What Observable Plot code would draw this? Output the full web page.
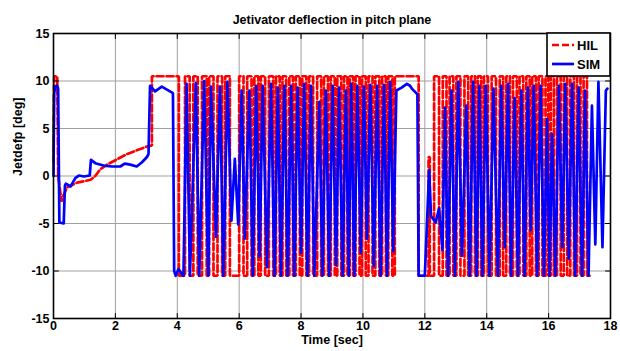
<!DOCTYPE html>
<html>
<head>
<meta charset="utf-8">
<script src="https://cdn.jsdelivr.net/npm/d3@7"></script>
<script src="https://cdn.jsdelivr.net/npm/@observablehq/plot@0.6"></script>
<style>
  html, body { margin: 0; padding: 0; background: #fff; }
  #chart svg { display: block; }
</style>
</head>
<body>
<div id="chart"></div>
<script>
// ---------- labels ----------
const titleText = "Jetivator deflection in pitch plane";
const xLabel = "Time [sec]";
const yLabel = "Jetdefp [deg]";
const seriesNames = ["HIL", "SIM"];
const xTicks = [0, 2, 4, 6, 8, 10, 12, 14, 16, 18];
const yTicks = [-15, -10, -5, 0, 5, 10, 15];

// ---------- SIM (blue, solid) : time / value ----------
const simT = [0.00,0.02,0.05,0.12,0.15,0.19,0.33,0.37,0.40,0.55,0.71,0.82,0.98,1.17,1.21,1.35,1.62,1.89,2.16,2.30,2.48,2.69,2.86,3.02,3.07,3.12,3.28,3.50,3.82,3.86,3.90,3.95,4.04,4.14,4.20,
  4.30,4.41,4.60,4.71,4.87,5.00,5.09,5.25,5.38,5.49,5.62,5.75,5.86,5.97,6.08,6.18,6.33,6.44,6.55,6.66,6.76,6.90,7.03,7.14,7.25,7.35,7.46,7.57,7.68,7.78,7.89,8.00,8.10,8.21,8.32,8.43,8.59,8.69,8.80,8.91,9.02,9.13,9.23,9.34,9.45,9.54,9.62,9.72,9.82,9.93,10.03,10.13,10.24,10.35,10.46,10.57,10.68,10.78,10.88,10.98,11.08,11.25,11.42,11.52,11.58,11.70,11.76,11.80,12.00,
  12.14,12.20,12.35,12.46,12.57,12.65,12.75,12.86,12.97,13.08,13.20,13.34,13.45,13.56,13.67,13.76,13.86,13.97,14.09,14.22,14.36,14.47,14.58,14.69,14.79,14.90,15.01,15.12,15.22,15.33,15.42,15.52,15.63,15.74,15.85,15.95,16.03,16.11,16.22,16.33,16.44,16.54,16.65,16.76,16.86,16.97,17.08,17.18,17.29,17.40,17.51,17.61,17.74,17.85,17.90];
const simV = [0.0,8.6,9.4,9.5,9.2,-4.9,-5.0,-1.0,-0.8,-1.1,-0.2,0.05,-0.05,0.05,1.7,1.35,1.1,1.0,1.0,1.3,1.2,1.0,1.45,2.0,2.3,9.5,8.9,9.4,8.8,8.7,-10.0,-10.5,-9.8,-10.3,-10.5,
  9.7,-10.5,9.8,-10.5,10.0,-10.5,9.4,-6.4,9.4,-10.5,9.9,-4.7,1.8,-5.1,9.0,-6.6,9.0,-10.5,9.5,-8.5,9.5,-9.6,9.7,-10.5,9.3,-10.5,9.5,-10.5,9.5,-10.5,9.3,-8.1,9.7,-10.5,9.5,-10.5,7.8,-10.5,9.0,-10.5,9.5,-9.4,9.3,-10.5,9.0,-10.5,9.7,-10.5,9.5,-8.1,9.4,-6.6,9.6,-9.5,9.5,-10.5,9.6,-10.5,9.9,-7.9,9.0,9.3,9.7,9.5,9.2,8.8,8.6,-10.5,-10.5,
  0.6,-4.2,-4.9,-3.4,-7.8,7.2,-10.5,9.0,-10.5,9.9,-8.4,7.4,-10.5,9.9,-10.5,9.5,-10.5,9.5,-10.5,9.2,-10.5,9.5,-7.5,9.7,-10.5,8.2,-10.5,9.0,-10.5,9.3,-5.7,9.5,-10.5,9.5,-10.5,6.0,-10.5,4.4,-10.5,9.5,-7.5,9.7,-8.7,9.7,-10.5,9.3,-10.5,9.0,-10.5,7.4,-7.2,9.9,-7.5,9.0,9.2];

// ---------- HIL (red, dashed) : smooth start, then switching times / levels ----------
const hilStartT = [0.00,0.02,0.12,0.15,0.26,0.30,0.44,0.76,1.20,1.35,1.51,1.73,2.05,2.37,2.69,3.02,3.16];
const hilStartV = [1.5,10.5,10.5,0.0,-2.7,-2.2,-1.2,-0.7,-0.4,0.0,0.7,1.2,1.75,2.3,2.7,3.1,3.2];
const hilSwitchT = [3.18,4.05,4.25,4.40,4.52,4.66,4.80,4.95,5.03,5.17,5.30,5.45,5.55,5.70,6.00,6.14,6.26,6.40,6.49,6.62,6.70,6.84,6.96,7.10,7.19,7.31,7.40,7.52,7.62,7.74,7.83,7.96,8.04,8.17,8.26,8.39,8.52,8.65,8.74,8.87,8.96,9.09,9.17,9.30,9.39,9.50,9.57,9.68,9.76,9.89,9.97,10.09,10.18,10.31,10.40,10.53,10.62,10.74,10.82,10.95,11.03,11.80,
  12.12,12.16,12.30,12.46,12.58,12.70,12.80,12.92,13.02,13.15,13.28,13.40,13.50,13.62,13.71,13.82,13.91,14.04,14.16,14.30,14.42,14.53,14.63,14.75,14.85,14.97,15.06,15.18,15.28,15.39,15.47,15.59,15.68,15.80,15.90,15.99,16.07,16.17,16.27,16.39,16.49,16.60,16.70,16.82,16.92,17.03,17.13,17.24,17.35,17.48];
const hilSwitchV = [10.5,-10.5,10.5,-10.5,10.5,-10.5,10.5,-10.5,10.5,-10.5,10.5,-10.5,10.5,-10.5,10.5,-10.5,10.5,-10.5,10.5,-10.5,10.5,-10.5,10.5,-10.5,10.5,-10.5,10.5,-10.5,10.5,-10.5,10.5,-10.5,10.5,-10.5,10.5,-10.5,10.5,-10.5,10.5,-10.5,10.5,-10.5,10.5,-10.5,10.5,-10.5,10.5,-10.5,10.5,-10.5,10.5,-10.5,10.5,-10.5,10.5,-10.5,10.5,-10.5,10.5,-10.5,10.5,-10.5,
  2.0,-10.5,10.5,-10.5,10.5,-10.5,10.5,-10.5,10.5,-10.5,10.5,-10.5,10.5,-10.5,10.5,-10.5,10.5,-10.5,10.5,-10.5,10.5,-10.5,10.5,-10.5,10.5,-10.5,10.5,-10.5,10.5,-10.5,10.5,-10.5,10.5,-10.5,10.5,-10.5,10.5,-10.5,10.5,-10.5,10.5,-10.5,10.5,-10.5,10.5,-10.5,10.5,-10.5];
const hilEndT = 17.52;

// ---------- build tables ----------
const sim = simT.map((t, i) => ({t, v: simV[i]}));
const hil = hilStartT.map((t, i) => ({t, v: hilStartV[i]}));
let prevLevel = hilStartV[hilStartV.length - 1];
hilSwitchT.forEach((t, i) => {
  hil.push({t, v: prevLevel});
  hil.push({t, v: hilSwitchV[i]});
  prevLevel = hilSwitchV[i];
});
hil.push({t: hilEndT, v: prevLevel});

const FONT = "'Liberation Sans', Arial, Helvetica, sans-serif";
const tickShape = {draw(ctx, l) { ctx.moveTo(0, 0); ctx.lineTo(0, -l); }};

const chart = Plot.plot({
  width: 620,
  height: 351,
  marginLeft: 53,
  marginRight: 10,
  marginTop: 33,
  marginBottom: 33,
  style: {fontFamily: FONT, fontSize: "12.5px", fontWeight: "bold", background: "#fff", color: "#000"},
  x: {domain: [0, 18]},
  y: {domain: [-15, 15]},
  marks: [
    Plot.gridX(xTicks, {stroke: "#a0a0a0", strokeOpacity: 1, strokeWidth: 1}),
    Plot.gridY(yTicks, {stroke: "#a0a0a0", strokeOpacity: 1, strokeWidth: 1}),
    Plot.line(hil, {x: "t", y: "v", stroke: "#ff0000", strokeWidth: 2.7, strokeDasharray: "7,3", strokeLinejoin: "miter"}),
    Plot.line(sim, {x: "t", y: "v", stroke: "#0000ff", strokeWidth: 2.7}),
    Plot.vector(xTicks, {x: d => d, frameAnchor: "bottom", anchor: "start", length: 5, rotate: 0, shape: tickShape, stroke: "#000", strokeWidth: 1}),
    Plot.vector(xTicks, {x: d => d, frameAnchor: "top", anchor: "start", length: 5, rotate: 180, shape: tickShape, stroke: "#000", strokeWidth: 1}),
    Plot.vector(yTicks, {y: d => d, frameAnchor: "left", anchor: "start", length: 5, rotate: 90, shape: tickShape, stroke: "#000", strokeWidth: 1}),
    Plot.vector(yTicks, {y: d => d, frameAnchor: "right", anchor: "start", length: 5, rotate: -90, shape: tickShape, stroke: "#000", strokeWidth: 1}),
    Plot.frame({stroke: "#000", strokeWidth: 1.6}),
    Plot.axisX(xTicks, {tickSize: 0, tickPadding: 3, label: null, tickFormat: d => String(d), fontSize: 12.5, fontWeight: "bold"}),
    Plot.axisY(yTicks, {tickSize: 0, tickPadding: 4, label: null, tickFormat: d => String(d), fontSize: 12.5, fontWeight: "bold"}),
    Plot.text([titleText], {frameAnchor: "top", dy: -18, fontSize: 12.5, fontWeight: "bold", fill: "#000"}),
    Plot.text([xLabel], {frameAnchor: "bottom", dy: 25, fontSize: 12.5, fontWeight: "bold", fill: "#000"}),
    Plot.text([yLabel], {frameAnchor: "left", dx: -36, rotate: -90, fontSize: 12.5, fontWeight: "bold", fill: "#000"})
  ]
});

document.getElementById("chart").appendChild(chart);

// ---------- legend (positioned from the plot's own scales) ----------
const sx = chart.scale("x"), sy = chart.scale("y");
const boxRight = sx.apply(18), boxTop = sy.apply(15);
const boxW = 63, boxH = 43;
const lg = d3.select(chart).append("g").attr("font-family", FONT).attr("font-weight", "bold").attr("font-size", 13).attr("text-anchor", "start");
lg.append("rect").attr("x", boxRight - boxW).attr("y", boxTop).attr("width", boxW).attr("height", boxH)
  .attr("fill", "#fff").attr("stroke", "#000").attr("stroke-width", 1.6);
const legendColors = ["#ff0000", "#0000ff"];
const legendDash = ["7,3", null];
seriesNames.forEach((name, i) => {
  const yy = boxTop + 12 + i * 19;
  const ln = lg.append("line").attr("x1", boxRight - boxW + 5).attr("x2", boxRight - boxW + 27)
    .attr("y1", yy).attr("y2", yy).attr("stroke", legendColors[i]).attr("stroke-width", 2.7);
  if (legendDash[i]) ln.attr("stroke-dasharray", legendDash[i]);
  lg.append("text").attr("x", boxRight - boxW + 30).attr("y", yy).attr("dy", "0.35em").attr("fill", "#000").attr("text-anchor", "start").text(name);
});
</script>
</body>
</html>
